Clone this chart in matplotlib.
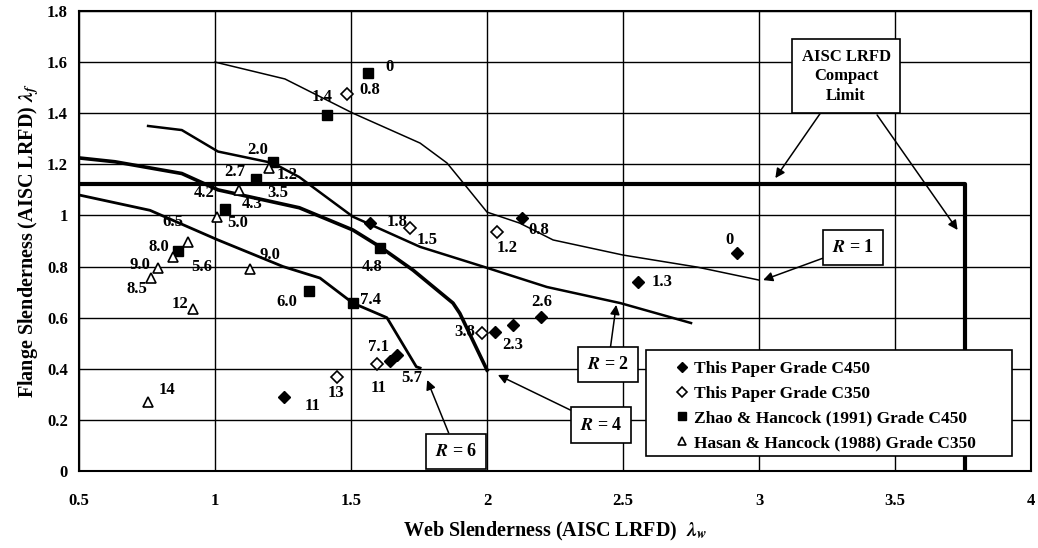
import matplotlib.pyplot as plt
from matplotlib.patches import Rectangle

plt.rcParams['font.family'] = ['Liberation Serif', 'DejaVu Serif']
plt.rcParams['font.weight'] = 'bold'
plt.rcParams['mathtext.fontset'] = 'stix'

# Test points (web slenderness, flange slenderness)
c450_x = [1.57, 2.13, 2.92, 2.555, 2.20, 2.096, 2.03, 1.643, 1.669, 1.254]
c450_y = [0.97, 0.99, 0.853, 0.74, 0.603, 0.571, 0.544, 0.43, 0.454, 0.29]

c350_x = [1.485, 1.717, 2.035, 1.98, 1.595, 1.448]
c350_y = [1.475, 0.951, 0.935, 0.54, 0.418, 0.368]

zhao_x = [1.563, 1.41, 1.213, 1.15, 1.037, 0.864, 1.346, 1.507, 1.607]
zhao_y = [1.558, 1.393, 1.21, 1.142, 1.025, 0.86, 0.705, 0.657, 0.872]

hasan_x = [1.20, 1.09, 1.007, 0.90, 0.846, 0.79, 0.765, 1.129, 0.92, 0.754]
hasan_y = [1.185, 1.10, 0.994, 0.897, 0.837, 0.793, 0.755, 0.79, 0.634, 0.27]

# R curves
r1_x = [1.0, 1.257, 1.507, 1.754, 1.853, 1.926, 2.0, 2.12, 2.243, 2.5, 2.772, 3.0]
r1_y = [1.6, 1.534, 1.40, 1.283, 1.205, 1.11, 1.013, 0.97, 0.904, 0.845, 0.798, 0.747]

r2_x = [0.754, 0.878, 1.011, 1.213, 1.31, 1.507, 1.754, 1.985, 2.22, 2.49, 2.75]
r2_y = [1.35, 1.334, 1.25, 1.205, 1.15, 0.995, 0.877, 0.80, 0.72, 0.657, 0.579]

r4_x = [0.5, 0.632, 0.878, 1.011, 1.31, 1.507, 1.607, 1.728, 1.875, 1.90, 2.0]
r4_y = [1.225, 1.21, 1.164, 1.10, 1.03, 0.943, 0.877, 0.786, 0.657, 0.617, 0.395]

r6_x = [0.5, 0.761, 1.011, 1.25, 1.386, 1.507, 1.632, 1.74, 1.754]
r6_y = [1.08, 1.02, 0.904, 0.80, 0.755, 0.657, 0.60, 0.408, 0.403]

# AISC LRFD compact limit
limit_x = [0.5, 3.757, 3.757]
limit_y = [1.123, 1.123, 0.0]

# point labels
labels = ["0", "0.8", "1.4", "2.0", "2.7", "1.2", "4.2", "3.5", "4.3", "5.0",
          "6.5", "8.0", "5.6", "9.0", "9.0", "1.8", "4.8", "8.5", "12", "6.0",
          "7.4", "7.1", "11", "5.7", "14", "11", "13", "1.5", "1.2", "0.8",
          "0", "1.3", "2.6", "3.8", "2.3"]
label_x = [1.643, 1.57, 1.393, 1.158, 1.074, 1.265, 0.96, 1.232, 1.136, 1.085,
           0.846, 0.794, 0.952, 0.724, 1.202, 1.669, 1.577, 0.713, 0.871, 1.265,
           1.57, 1.60, 1.60, 1.724, 0.823, 1.357, 1.445, 1.779, 2.073, 2.19,
           2.893, 2.643, 2.20, 1.919, 2.096]
label_y = [1.58, 1.49, 1.465, 1.256, 1.17, 1.158, 1.087, 1.087, 1.045, 0.97,
           0.975, 0.876, 0.80, 0.806, 0.845, 0.975, 0.80, 0.712, 0.653, 0.661,
           0.669, 0.485, 0.325, 0.364, 0.317, 0.254, 0.305, 0.904, 0.872, 0.943,
           0.904, 0.74, 0.661, 0.544, 0.493]

fig = plt.figure(figsize=(10.38, 5.48), dpi=100)
ax = fig.add_axes([0.0761, 0.1405, 0.9172, 0.8395])

ax.plot(r1_x, r1_y, color='black', lw=1.1)
ax.plot(r2_x, r2_y, color='black', lw=1.8)
ax.plot(r4_x, r4_y, color='black', lw=2.6)
ax.plot(r6_x, r6_y, color='black', lw=2.0)
ax.plot(limit_x, limit_y, color='black', lw=3.0)

ax.plot(c450_x, c450_y, 'D', color='black', ms=6.5, ls='none', label='This Paper Grade C450')
ax.plot(c350_x, c350_y, 'D', mfc='white', mec='black', mew=1.2, ms=6.5, ls='none',
        label='This Paper Grade C350')
ax.plot(zhao_x, zhao_y, 's', color='black', ms=6.5, ls='none',
        label='Zhao & Hancock (1991) Grade C450')
ax.plot(hasan_x, hasan_y, '^', mfc='white', mec='black', mew=1.2, ms=7.5, ls='none',
        label='Hasan & Hancock (1988) Grade C350')

for t, x, y in zip(labels, label_x, label_y):
    ax.text(x, y, t, fontsize=12, fontweight='bold', ha='center', va='center')

box = dict(boxstyle='square,pad=0.5', fc='white', ec='black', lw=1.2)
arrow = dict(arrowstyle='-|>', color='black', lw=1.1, mutation_scale=14, shrinkA=0, shrinkB=0)

ax.annotate("AISC LRFD\nCompact\nLimit", xy=(3.06, 1.146), xytext=(3.32, 1.545),
            ha='center', va='center', fontsize=12, fontweight='bold',
            bbox=dict(boxstyle='square,pad=0.55', fc='white', ec='black', lw=1.2),
            arrowprops=arrow, linespacing=1.3)
ax.annotate("", xy=(3.73, 0.943), xytext=(3.434, 1.393), arrowprops=arrow)

ax.annotate(r"$R$ = 1", xy=(3.015, 0.747), xytext=(3.346, 0.876),
            ha='center', va='center', fontsize=13, bbox=box, arrowprops=arrow)
ax.annotate(r"$R$ = 2", xy=(2.475, 0.65), xytext=(2.445, 0.415),
            ha='center', va='center', fontsize=13, bbox=box, arrowprops=arrow)
ax.annotate(r"$R$ = 4", xy=(2.04, 0.376), xytext=(2.42, 0.18),
            ha='center', va='center', fontsize=13, bbox=box, arrowprops=arrow)
ax.annotate(r"$R$ = 6", xy=(1.78, 0.356), xytext=(1.886, 0.078),
            ha='center', va='center', fontsize=13, bbox=box, arrowprops=arrow)

ax.set_xlim(0.5, 4)
ax.set_ylim(0, 1.8)
ax.set_xticks([0.5, 1, 1.5, 2, 2.5, 3, 3.5, 4])
ax.set_xticklabels(['0.5', '1', '1.5', '2', '2.5', '3', '3.5', '4'])
ax.set_yticks([0, 0.2, 0.4, 0.6, 0.8, 1, 1.2, 1.4, 1.6, 1.8])
ax.set_yticklabels(['0', '0.2', '0.4', '0.6', '0.8', '1', '1.2', '1.4', '1.6', '1.8'])
ax.tick_params(length=0, labelsize=12)
ax.tick_params(axis='x', pad=16)
ax.tick_params(axis='y', pad=8)
for lab in ax.get_xticklabels() + ax.get_yticklabels():
    lab.set_fontweight('bold')
ax.grid(True, color='black', lw=1.0)
ax.set_axisbelow(True)
for s in ax.spines.values():
    s.set_linewidth(1.5)

ax.set_xlabel(r"Web Slenderness (AISC LRFD)  $\lambda_w$", fontsize=14.5, fontweight='bold',
              labelpad=8)
ax.set_ylabel(r"Flange Slenderness (AISC LRFD) $\lambda_f$", fontsize=14.5, fontweight='bold',
              labelpad=4)

# legend frame drawn separately so the entries can sit inset from its left edge
ax.add_patch(Rectangle((0.596, 0.033), 0.384, 0.230, transform=ax.transAxes,
                       fc='white', ec='black', lw=1.2, zorder=4))
leg = ax.legend(loc='upper left', bbox_to_anchor=(0.624, 0.240), frameon=False,
                fontsize=12.5, borderpad=0, borderaxespad=0, handletextpad=0.2,
                labelspacing=0.5, handlelength=1.0, markerscale=0.8)
leg.set_zorder(5)

plt.savefig("out.png", dpi=100)
plt.close()
